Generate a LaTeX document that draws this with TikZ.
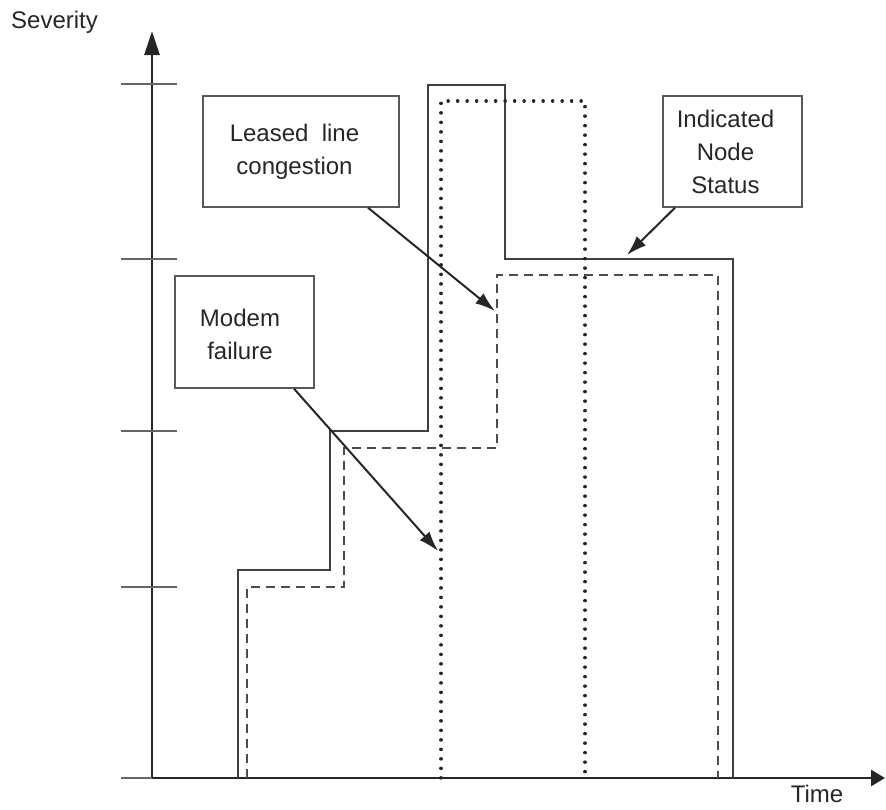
\documentclass[tikz,border=0pt]{standalone}
\usepackage{fontspec}
\setmainfont{Liberation Sans}
\usetikzlibrary{arrows.meta}
\begin{document}
\begin{tikzpicture}[x=1pt,y=-1pt,
  axis/.style={line width=2.8pt, draw=black!85},
  tickmark/.style={line width=1.3pt, draw=black!60},
  status/.style={line width=1.5pt, draw=black!75},
  fault/.style={line width=1.5pt, draw=black!70, dash pattern=on 9pt off 6pt},
  outage/.style={line width=3.2pt, draw=black!85, dash pattern=on 0.3pt off 9.2pt, line cap=round},
  callout/.style={draw=black!65, line width=1.4pt, inner sep=0pt},
  lbl/.style={font=\fontsize{24}{33}\selectfont, text=black!85, align=center, inner sep=0pt},
  pointer/.style={line width=2pt, draw=black!85, -{Latex[length=20pt,width=13pt]}}
]
\useasboundingbox (0,0) rectangle (886,809);

% axes
\coordinate (origin) at (152,778);
\coordinate (ytip) at (152,31);
\coordinate (xtip) at (885,778);
\draw[axis, -{Triangle[length=24pt,width=15pt]}] (origin) -- (ytip);
\draw[axis, -{Triangle[length=14pt,width=16pt]}] (origin) -- (xtip);
\node[lbl, anchor=base] (ylabel) at (54.5,28) {Severity};
\node[lbl, anchor=base] (xlabel) at (817,802) {Time};

% severity levels
\foreach \yy in {84,259,431,587} {
  \draw[tickmark] (121,\yy) -- (177,\yy);
}
\draw[tickmark] (121,778) -- (origin);

% indicated node status
\draw[status] (238,778) -- (238,570) -- (330,570) -- (330,431) -- (428,431)
  -- (428,85) -- (505,85) -- (505,259) -- (733,259) -- (733,778);
% leased line congestion
\draw[fault] (247,778) -- (247,587) -- (344,587) -- (344,448) -- (497,448)
  -- (497,275) -- (718,275) -- (718,778);
% modem failure
\draw[outage] (441,778) -- (441,101) -- (585,101) -- (585,778);

% callouts
\node[callout, minimum width=196pt, minimum height=111pt] (leased) at (301,151.5) {};
\node[lbl] (leasedtxt) at (294.5,152) {Leased\ \ line\\congestion};
\node[callout, minimum width=139pt, minimum height=112pt] (modem) at (244.5,332) {};
\node[lbl] (modemtxt) at (240,334) {Modem\\failure};
\node[callout, minimum width=139pt, minimum height=111pt] (indicated) at (732.5,151.5) {};
\node[lbl] (indicatedtxt) at (725.5,152) {Indicated\\Node\\Status};

\coordinate (leasedend) at (495,311);
\coordinate (modemend) at (438,551);
\coordinate (indicatedend) at (627,255);
\draw[pointer] (leased.south -| 368,0) -- (leasedend);
\draw[pointer] (modem.south -| 294,0) -- (modemend);
\draw[pointer] (indicated.south -| 675,0) -- (indicatedend);
\end{tikzpicture}
\end{document}
